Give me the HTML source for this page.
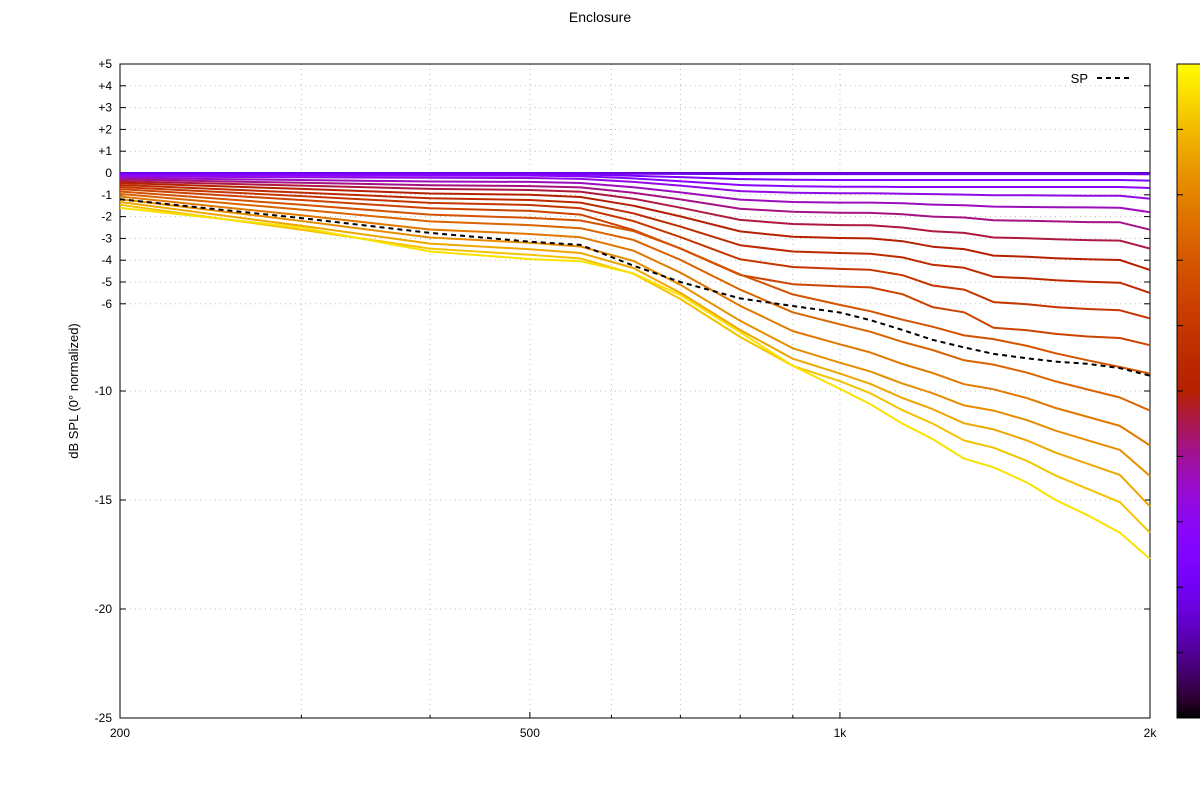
<!DOCTYPE html>
<html><head><meta charset="utf-8"><style>
body{margin:0;background:#fff;}
svg{display:block;font-family:"Liberation Sans",sans-serif;}
</style></head><body>
<svg id="chart" width="1200" height="800">
<text x="600" y="22" text-anchor="middle" font-size="14">Enclosure</text>
<text transform="translate(78,391) rotate(-90)" text-anchor="middle" font-size="13">dB SPL (0° normalized)</text>
<g id="grid"></g>
<g id="axes"></g>
<g id="series"></g>
<g id="legend"></g>
<g id="cbar"></g>
</svg>
<script>
const freqs=[200,300,400,500,560,630,700,800,900,1000,1070,1150,1230,1320,1410,1520,1620,1740,1870,2000];
const c0=[0,0,0,0,0,0,0,0,0,0,0,0,0,0,0,0,0,0,0,0];
const c1=[-0.02,-0.02,-0.02,-0.02,-0.02,-0.03,-0.04,-0.05,-0.05,-0.05,-0.05,-0.05,-0.05,-0.05,-0.05,-0.05,-0.05,-0.05,-0.05,-0.06];
const c2=[-0.05,-0.055,-0.06,-0.06,-0.07,-0.13,-0.19,-0.28,-0.31,-0.32,-0.32,-0.32,-0.32,-0.32,-0.32,-0.32,-0.32,-0.32,-0.32,-0.35];
const c3=[-0.1,-0.11,-0.12,-0.12,-0.15,-0.25,-0.38,-0.55,-0.61,-0.63,-0.63,-0.64,-0.64,-0.64,-0.64,-0.64,-0.64,-0.64,-0.64,-0.69];
const c4=[-0.16,-0.195,-0.22,-0.23,-0.27,-0.41,-0.58,-0.83,-0.91,-0.93,-0.93,-0.95,-0.97,-0.99,-1.02,-1.02,-1.03,-1.04,-1.04,-1.18];
const c5=[-0.23,-0.32,-0.39,-0.41,-0.46,-0.65,-0.89,-1.22,-1.33,-1.36,-1.36,-1.39,-1.45,-1.48,-1.54,-1.56,-1.57,-1.58,-1.59,-1.8];
const c6=[-0.3,-0.45,-0.56,-0.6,-0.66,-0.91,-1.21,-1.64,-1.78,-1.82,-1.83,-1.89,-2.0,-2.04,-2.17,-2.19,-2.22,-2.25,-2.26,-2.6];
const c7=[-0.38,-0.58,-0.73,-0.78,-0.86,-1.18,-1.59,-2.15,-2.34,-2.39,-2.4,-2.5,-2.67,-2.75,-2.96,-2.99,-3.04,-3.08,-3.1,-3.47];
const c8=[-0.46,-0.73,-0.94,-1.0,-1.1,-1.5,-1.99,-2.68,-2.92,-2.98,-3.0,-3.13,-3.38,-3.49,-3.79,-3.84,-3.91,-3.96,-3.99,-4.45];
const c9=[-0.55,-0.9,-1.16,-1.24,-1.36,-1.85,-2.46,-3.31,-3.6,-3.67,-3.7,-3.87,-4.21,-4.35,-4.76,-4.83,-4.92,-4.99,-5.03,-5.5];
const c10=[-0.64,-1.06,-1.37,-1.47,-1.62,-2.2,-2.94,-3.96,-4.31,-4.4,-4.44,-4.69,-5.16,-5.35,-5.92,-6.02,-6.15,-6.24,-6.3,-6.67];
const c11=[-0.74,-1.24,-1.62,-1.74,-1.91,-2.61,-3.47,-4.68,-5.1,-5.2,-5.25,-5.56,-6.15,-6.39,-7.1,-7.21,-7.38,-7.5,-7.57,-7.9];
const c12=[-0.85,-1.46,-1.91,-2.06,-2.18,-2.66,-3.46,-4.65,-5.57,-6.05,-6.34,-6.73,-7.05,-7.45,-7.62,-7.93,-8.27,-8.59,-8.9,-9.2];
const c13=[-0.96,-1.68,-2.22,-2.39,-2.53,-3.07,-3.98,-5.35,-6.39,-6.94,-7.28,-7.75,-8.12,-8.59,-8.79,-9.16,-9.56,-9.93,-10.3,-10.9];
const c14=[-1.08,-1.94,-2.59,-2.8,-2.95,-3.56,-4.57,-6.09,-7.25,-7.86,-8.23,-8.76,-9.17,-9.69,-9.92,-10.33,-10.78,-11.19,-11.6,-12.5];
const c15=[-1.2,-2.2,-2.96,-3.2,-3.37,-4.03,-5.13,-6.78,-8.04,-8.7,-9.1,-9.66,-10.1,-10.66,-10.9,-11.34,-11.82,-12.26,-12.7,-13.9];
const c16=[-1.33,-2.42,-3.24,-3.5,-3.67,-4.36,-5.5,-7.2,-8.52,-9.2,-9.67,-10.32,-10.83,-11.48,-11.76,-12.27,-12.83,-13.34,-13.85,-15.3];
const c17=[-1.46,-2.6,-3.47,-3.75,-3.92,-4.62,-5.78,-7.52,-8.85,-9.55,-10.1,-10.88,-11.49,-12.27,-12.6,-13.21,-13.88,-14.49,-15.1,-16.5];
const c18=[-1.6,-2.5,-3.6,-3.95,-4.05,-4.6,-5.6,-7.3,-8.85,-9.9,-10.6,-11.5,-12.2,-13.1,-13.5,-14.2,-15.0,-15.7,-16.5,-17.7];
const sp=[-1.2,-2.07,-2.75,-3.15,-3.3,-4.25,-5.0,-5.75,-6.1,-6.4,-6.75,-7.2,-7.65,-8.0,-8.3,-8.5,-8.65,-8.75,-8.95,-9.3];
const yTicks=[5,4,3,2,1,0,-1,-2,-3,-4,-5,-6,-10,-15,-20,-25];
const yLabels=["+5","+4","+3","+2","+1","0","-1","-2","-3","-4","-5","-6","-10","-15","-20","-25"];
const xMajor=[200,500,1000,2000];
const xLabels=["200","500","1k","2k"];
const xMinor=[300,400,600,700,800,900];

const L=120,R=1150,T=64,B=718;
const fx=f=>L+(R-L)*Math.log10(f/200);
const fy=v=>T+(5-v)*(B-T)/30;
const NS='http://www.w3.org/2000/svg';
function mk(tag,attrs,parent){const e=document.createElementNS(NS,tag);for(const k in attrs)e.setAttribute(k,attrs[k]);parent.appendChild(e);return e;}
const grid=document.getElementById('grid'),axes=document.getElementById('axes'),series=document.getElementById('series');
yTicks.forEach((v,i)=>{
  const y=fy(v);
  const g=mk('line',{x1:L,x2:R,y1:y,y2:y,stroke:'#bbb','stroke-width':1,'stroke-dasharray':'1 4'},grid);
  
  
  const t=mk('line',{x1:L,x2:L+6,y1:y,y2:y,stroke:'#000'},axes);
  
  
  const t2=mk('line',{x1:R-6,x2:R,y1:y,y2:y,stroke:'#000'},axes);
  
  
  const tx=mk('text',{x:L-8,y:y+4,'text-anchor':'end','font-size':12},axes);
  tx.textContent=yLabels[i];
  
  
});
xMajor.concat(xMinor).forEach(f=>{
  const x=fx(f);
  const g=mk('line',{x1:x,x2:x,y1:T,y2:B,stroke:'#bbb','stroke-width':1,'stroke-dasharray':'1 4'},grid);
  
  
  const len=xMajor.includes(f)?6:3;
  const t=mk('line',{x1:x,x2:x,y1:B,y2:B-len,stroke:'#000'},axes);
  
  
});
xMajor.forEach((f,i)=>{
  const tx=mk('text',{x:fx(f),y:B+19,'text-anchor':'middle','font-size':12},axes);
  tx.textContent=xLabels[i];
  
  
});
const frame=mk('rect',{x:L,y:T,width:R-L,height:B-T,fill:'none',stroke:'#000','stroke-width':1},axes);



function pal(t){const r=Math.sqrt(t),g=t*t*t,b=Math.max(0,Math.sin(2*Math.PI*t));return `rgb(${Math.round(r*255)},${Math.round(g*255)},${Math.round(b*255)})`;}
const curves=[c0,c1,c2,c3,c4,c5,c6,c7,c8,c9,c10,c11,c12,c13,c14,c15,c16,c17,c18];
const path=arr=>arr.map((v,i)=>(i?'L':'M')+fx(freqs[i]).toFixed(1)+','+fy(v).toFixed(1)).join('');
curves.forEach((c,i)=>{
  const t=0.14+0.82*i/(curves.length-1);
  const p=mk('path',{d:path(c),fill:'none',stroke:pal(t),'stroke-width':2,'stroke-linejoin':'round'},series);
  
  
});
const spPath=mk('path',{d:path(sp),fill:'none',stroke:'#000','stroke-width':2,'stroke-dasharray':'5 4'},series);



const lg=document.getElementById('legend');
const lt=mk('text',{x:1088,y:83,'text-anchor':'end','font-size':13},lg);
lt.textContent='SP';


const ll=mk('line',{x1:1097,x2:1133,y1:78,y2:78,stroke:'#000','stroke-width':2,'stroke-dasharray':'5 4'},lg);



const cb=document.getElementById('cbar');
const defs=mk('defs',{},cb);
const grad=mk('linearGradient',{id:'pg',x1:0,y1:1,x2:0,y2:0},defs);
for(let k=0;k<=40;k++){const t=k/40;mk('stop',{offset:t,'stop-color':pal(t)},grad);}
const cr=mk('rect',{x:1177,y:T,width:40,height:B-T,fill:'url(#pg)',stroke:'#000'},cb);


for(let k=1;k<10;k++){
  const y=T+(B-T)*k/10;
  const tk=mk('line',{x1:1177,x2:1183,y1:y,y2:y,stroke:'#000'},cb);
  
  
}
</script>
</body></html>
